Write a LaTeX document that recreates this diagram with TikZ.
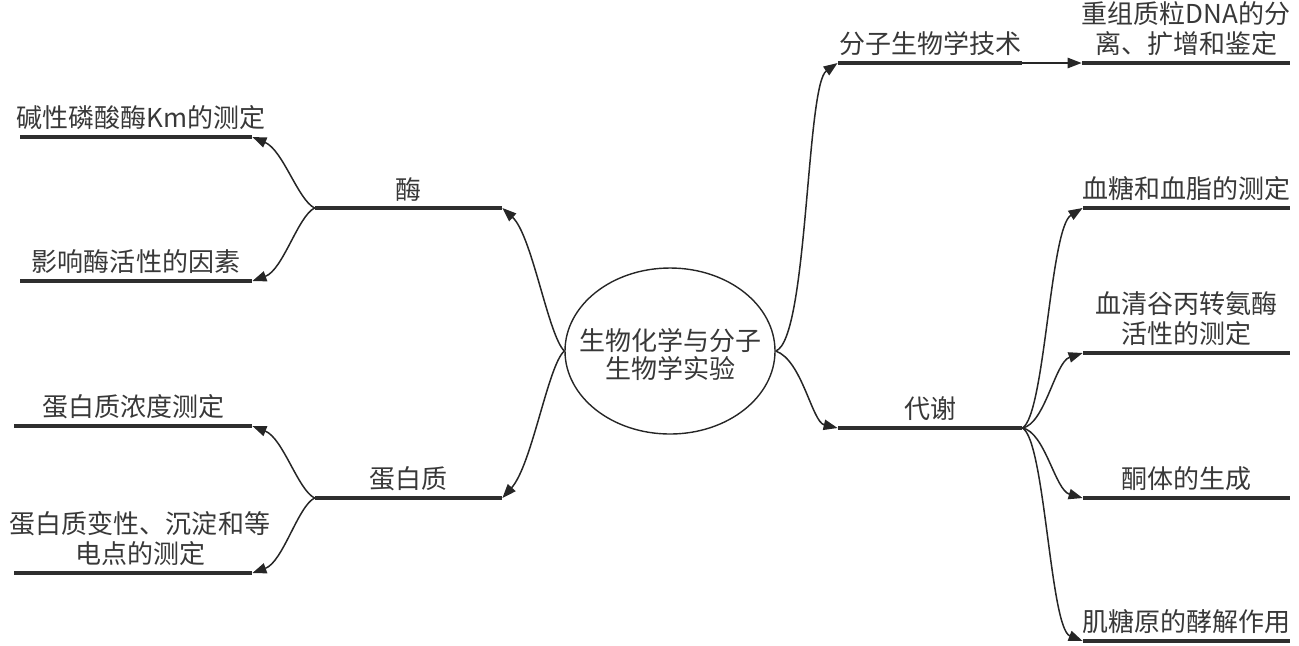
\documentclass[tikz,border=0pt]{standalone}
\usepackage{fontspec}
\setmainfont{Noto Sans CJK SC}
\usetikzlibrary{arrows.meta,shapes.geometric}
\begin{document}
\begin{tikzpicture}[x=0.5pt,y=-0.5pt,
  every node/.style={font=\fontsize{13}{15}\selectfont, text=black!78},
  bar/.style={rectangle, fill=black!82, inner sep=0pt, minimum height=2.3pt},
  lbl/.style={inner sep=0pt, align=center, anchor=south},
  arr/.style={draw=black!85, line width=0.75pt, -{Triangle[length=7pt,width=5.2pt]}},
]
\useasboundingbox (0,0) rectangle (1299,645);

% root
\node[draw=black!85, line width=0.7pt, ellipse, inner sep=0pt,
      minimum width=105pt, minimum height=83pt] (root) at (670,351) {};
\node[inner sep=0pt, align=center] (rootT) at (670,354)
      {生物化学与分子\\[-1pt]生物学实验};

% bars
\node[bar, minimum width=93.5pt] (jiu) at (408.5,208) {};
\node[bar, minimum width=93.5pt] (dbz) at (408.5,498) {};
\node[bar, minimum width=92pt]   (fz)  at (930,63) {};
\node[bar, minimum width=104pt]  (cz)  at (1186,63) {};
\node[bar, minimum width=92pt]   (dx)  at (930,428) {};
\node[bar, minimum width=103.5pt] (xt) at (1186.5,208) {};
\node[bar, minimum width=103.5pt] (xq) at (1186.5,353) {};
\node[bar, minimum width=103.5pt] (tt) at (1186.5,498) {};
\node[bar, minimum width=103.5pt] (jt) at (1186.5,641) {};
\node[bar, minimum width=116pt] (km) at (136,137) {};
\node[bar, minimum width=116pt] (yx) at (136,281) {};
\node[bar, minimum width=119pt] (nd) at (133,426) {};
\node[bar, minimum width=119pt] (bx) at (133,573) {};

% labels
\node[lbl] (jiuT) at ([yshift=2pt]jiu.north) {酶};
\node[lbl] (dbzT) at ([yshift=2pt]dbz.north) {蛋白质};
\node[lbl] (fzT)  at ([yshift=2pt]fz.north) {分子生物学技术};
\node[lbl] (czT)  at ([yshift=2pt]cz.north) {重组质粒DNA的分\\离、扩增和鉴定};
\node[lbl] (dxT)  at ([yshift=2pt]dx.north) {代谢};
\node[lbl] (xtT)  at ([yshift=2pt]xt.north) {血糖和血脂的测定};
\node[lbl] (xqT)  at ([yshift=2pt]xq.north) {血清谷丙转氨酶\\活性的测定};
\node[lbl] (ttT)  at ([yshift=2pt]tt.north) {酮体的生成};
\node[lbl] (jtT)  at ([yshift=2pt]jt.north) {肌糖原的酵解作用};
\node[lbl] (kmT)  at ([yshift=2pt,xshift=2.5pt]km.north) {碱性磷酸酶Km的测定};
\node[lbl] (yxT)  at ([yshift=2pt]yx.north) {影响酶活性的因素};
\node[lbl] (ndT)  at ([yshift=2pt]nd.north) {蛋白质浓度测定};
\node[lbl] (bxT)  at ([yshift=2pt,xshift=3.5pt]bx.north) {蛋白质变性、沉淀和等\\电点的测定};

% connectors from root
\draw[arr] (root.west) .. controls (548,335) and (532,235) .. (jiu.east);
\draw[arr] (root.west) .. controls (548,365) and (532,465) .. (dbz.east);
\draw[arr] (root.east) .. controls (808,340) and (806,85) .. (fz.west);
\draw[arr] (root.east) .. controls (802,360) and (812,422) .. (dx.west);

\draw[arr] (fz.east) -- (cz.west);

% left leaves
\draw[arr] (jiu.west) .. controls (298,200) and (283,150) .. (km.east);
\draw[arr] (jiu.west) .. controls (298,216) and (283,270) .. (yx.east);
\draw[arr] (dbz.west) .. controls (298,490) and (283,438) .. (nd.east);
\draw[arr] (dbz.west) .. controls (298,506) and (283,562) .. (bx.east);

% right leaves
\draw[arr] (dx.east) .. controls (1045,415) and (1050,228) .. (xt.west);
\draw[arr] (dx.east) .. controls (1045,424) and (1055,362) .. (xq.west);
\draw[arr] (dx.east) .. controls (1045,432) and (1055,490) .. (tt.west);
\draw[arr] (dx.east) .. controls (1045,440) and (1050,628) .. (jt.west);
\end{tikzpicture}
\end{document}
